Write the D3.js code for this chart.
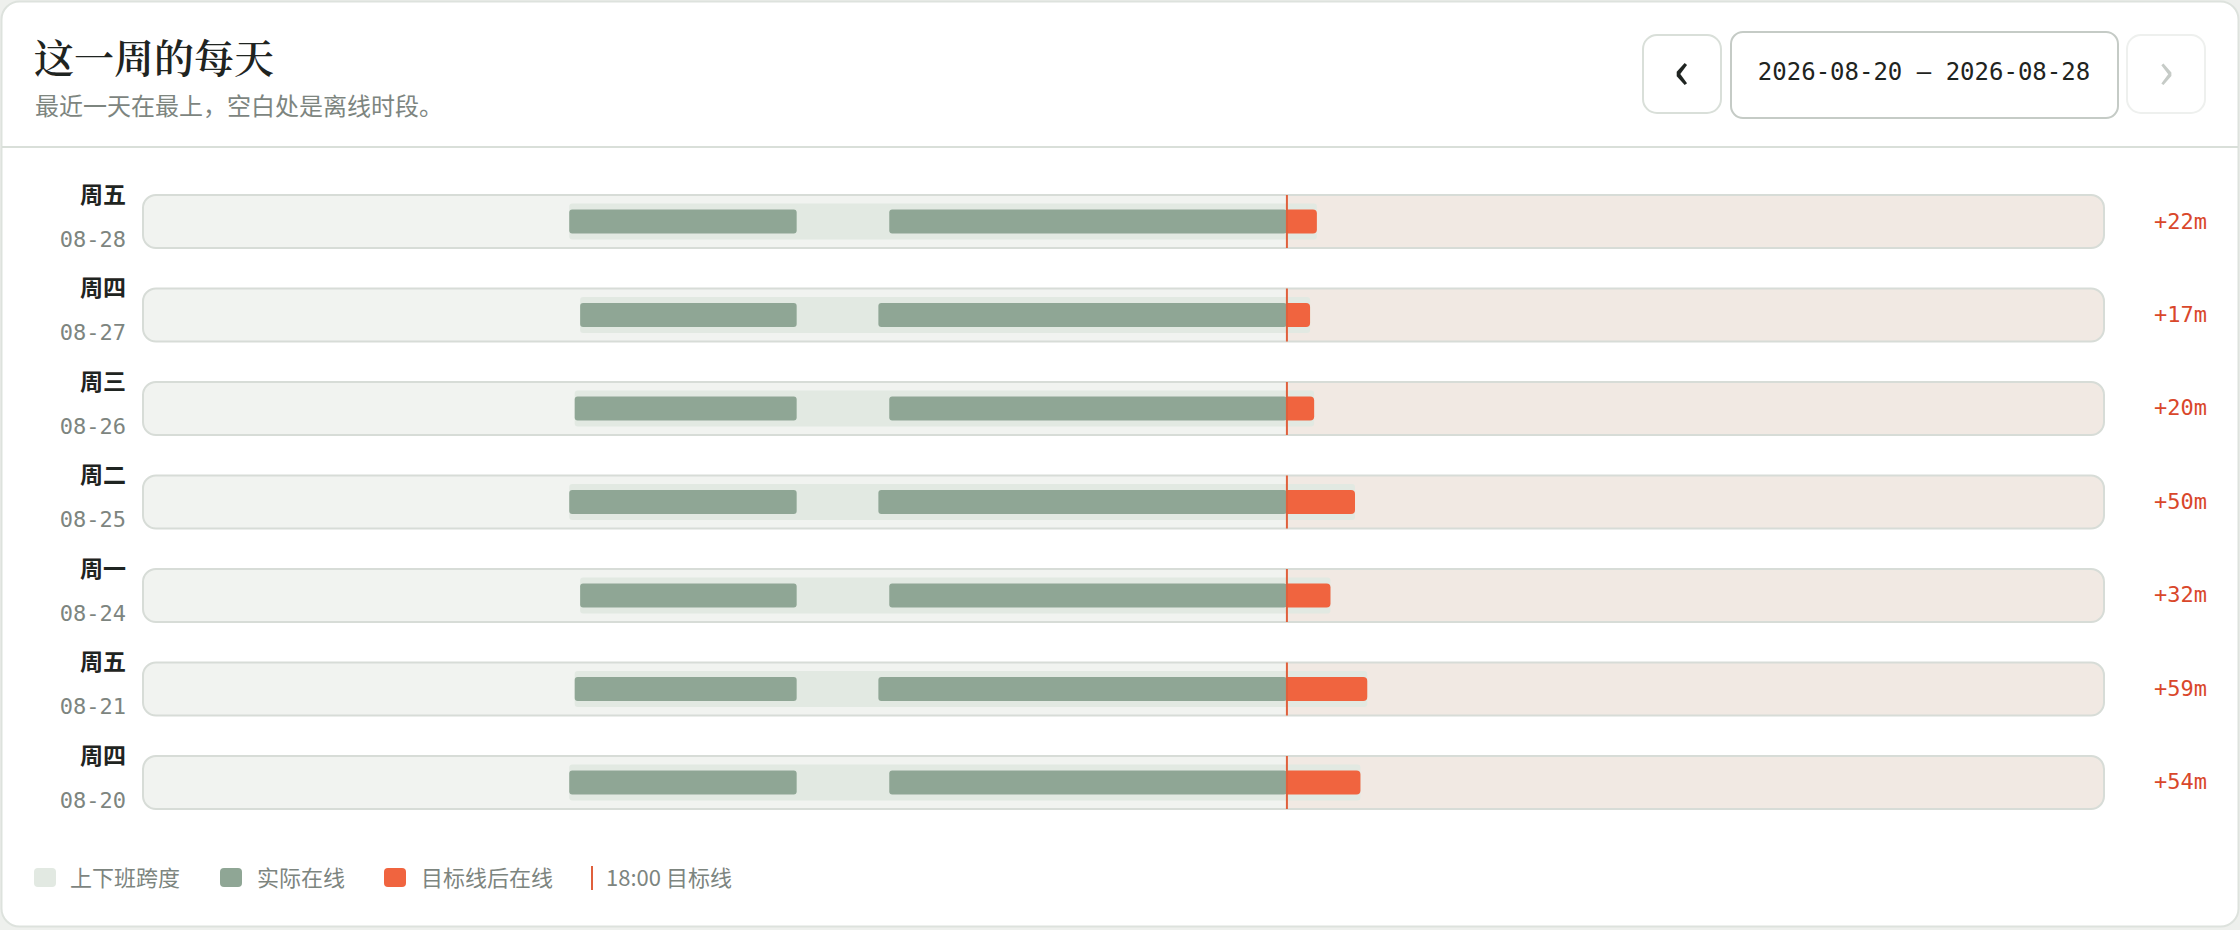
<!DOCTYPE html>
<html>
  <head>
    <meta charset="utf-8">
    <script src="https://cdn.jsdelivr.net/npm/d3@7"></script>
    <style type="text/css">
      body {
      margin: 0;
      background: #eef0ed;
      }
      .sans { font-family: "Noto Sans CJK SC", "Noto Sans", sans-serif; }
      .mono { font-family: "DejaVu Sans Mono", "Liberation Mono", monospace; }
      .serif { font-family: "Noto Serif CJK SC", "Source Han Serif SC", serif; }
    </style>
  </head>
  <body>
    <div class="plot_canvas"></div>
    <script>

    // one row per day, most recent on top
    var weekdays = ["周五", "周四", "周三", "周二", "周一", "周五", "周四"];
    var dates = ["08-28", "08-27", "08-26", "08-25", "08-24", "08-21", "08-20"];
    var morningStart = ["09:13", "09:21", "09:17", "09:13", "09:21", "09:17", "09:13"];
    var morningEnd = ["12:00", "12:00", "12:00", "12:00", "12:00", "12:00", "12:00"];
    var afternoonStart = ["13:08", "13:00", "13:08", "13:00", "13:08", "13:00", "13:08"];
    var afternoonEnd = ["18:22", "18:17", "18:20", "18:50", "18:32", "18:59", "18:54"];
    var overtimeLabels = ["+22m", "+17m", "+20m", "+50m", "+32m", "+59m", "+54m"];
    var targetTime = "18:00";
    var dayStart = "04:00", dayEnd = "28:00";
    var rangeLabel = "2026-08-20 – 2026-08-28";
    var legendLabels = ["上下班跨度", "实际在线", "目标线后在线", "18:00 目标线"];

    var W = 2240, H = 930;
    var C = {track: "#f1f3f0", late: "#f1e9e3", border: "#d7dcd7", span: "#e2e9e2",
             online: "#8fa695", over: "#f0643f", target: "#e0603c", red: "#d9472b",
             ink: "#1f2421", muted: "#7d857f"};

    function mins(s) { var p = s.split(":"); return +p[0] * 60 + +p[1]; }

    var days = dates.map(function(d, i) {
      return {date: d, weekday: weekdays[i], label: overtimeLabels[i],
              segs: [[mins(morningStart[i]), mins(morningEnd[i])],
                     [mins(afternoonStart[i]), mins(afternoonEnd[i])]]};
    });
    var target = mins(targetTime);

    var x = d3.scaleLinear().domain([mins(dayStart), mins(dayEnd)]).range([143, 2104]);
    var y = d3.scaleBand().domain(dates).range([195, 809]).paddingInner(0.433).paddingOuter(0);
    var th = y.bandwidth();

    var svg = d3.select(".plot_canvas").append("svg")
      .attr("width", W).attr("height", H)
      .style("display", "block");

    // card
    svg.append("rect").attr("x", 1.5).attr("y", 1.5).attr("width", W - 3).attr("height", H - 5)
      .attr("rx", 18).attr("fill", "#fff").attr("stroke", "#dde2dd").attr("stroke-width", 2);
    svg.append("line").attr("x1", 2).attr("x2", W - 2).attr("y1", 147).attr("y2", 147)
      .attr("stroke", "#d9dfd9").attr("stroke-width", 2);

    svg.append("text").attr("class", "serif").attr("x", 34).attr("y", 73)
      .attr("font-size", 40).attr("font-weight", 600).attr("fill", C.ink).text("这一周的每天");
    svg.append("text").attr("class", "sans").attr("x", 35).attr("y", 115)
      .attr("font-size", 24).attr("fill", C.muted).text("最近一天在最上，空白处是离线时段。");

    // week navigation
    var nav = svg.append("g");
    nav.append("rect").attr("x", 1643).attr("y", 35).attr("width", 78).attr("height", 78)
      .attr("rx", 14).attr("fill", "#fff").attr("stroke", "#d9dfd9").attr("stroke-width", 2);
    nav.append("text").attr("class", "sans").attr("x", 1682).attr("y", 89)
      .attr("text-anchor", "middle").attr("font-size", 52).attr("font-weight", 500)
      .attr("fill", C.ink).text("‹");
    nav.append("rect").attr("x", 1731).attr("y", 32).attr("width", 387).attr("height", 86)
      .attr("rx", 12).attr("fill", "#fff").attr("stroke", "#c5cbc6").attr("stroke-width", 2);
    nav.append("text").attr("class", "mono").attr("x", 1924).attr("y", 80)
      .attr("text-anchor", "middle").attr("font-size", 24).attr("fill", C.ink).text(rangeLabel);
    nav.append("rect").attr("x", 2127).attr("y", 35).attr("width", 78).attr("height", 78)
      .attr("rx", 14).attr("fill", "#fff").attr("stroke", "#eef0ee").attr("stroke-width", 2);
    nav.append("text").attr("class", "sans").attr("x", 2166).attr("y", 89)
      .attr("text-anchor", "middle").attr("font-size", 52)
      .attr("fill", "#c6cbc7").text("›");

    // rows
    svg.append("defs").append("clipPath").attr("id", "trackclip")
      .append("rect").attr("x", x.range()[0]).attr("y", 0)
      .attr("width", x.range()[1] - x.range()[0]).attr("height", th).attr("rx", 13);

    var rows = svg.selectAll("g.row").data(days).enter().append("g")
      .attr("class", "row")
      .attr("transform", function(d) { return "translate(0," + y(d.date) + ")"; });

    rows.append("rect").attr("x", x.range()[0]).attr("width", x.range()[1] - x.range()[0])
      .attr("height", th).attr("fill", C.track).attr("clip-path", "url(#trackclip)");
    rows.append("rect").attr("x", x(target)).attr("width", x.range()[1] - x(target))
      .attr("height", th).attr("fill", C.late).attr("clip-path", "url(#trackclip)");
    rows.append("rect").attr("x", x.range()[0]).attr("width", x.range()[1] - x.range()[0])
      .attr("height", th).attr("rx", 13).attr("fill", "none")
      .attr("stroke", C.border).attr("stroke-width", 2);

    var spanH = 36, barH = 24;
    rows.append("rect")
      .attr("x", function(d) { return x(d.segs[0][0]); })
      .attr("width", function(d) { return x(d.segs[d.segs.length - 1][1]) - x(d.segs[0][0]); })
      .attr("y", (th - spanH) / 2).attr("height", spanH).attr("rx", 3).attr("fill", C.span);

    rows.selectAll("rect.on").data(function(d) { return d.segs; }).enter().append("rect")
      .attr("class", "on")
      .attr("x", function(s) { return x(s[0]); })
      .attr("width", function(s) { return x(Math.min(s[1], target)) - x(s[0]); })
      .attr("y", (th - barH) / 2).attr("height", barH).attr("rx", 3).attr("fill", C.online);

    // after the target line: square left, rounded right
    rows.selectAll("path.over").data(function(d) {
      return d.segs.filter(function(s) { return s[1] > target; });
    }).enter().append("path")
      .attr("class", "over")
      .attr("fill", C.over)
      .attr("d", function(s) {
        var x0 = x(Math.max(s[0], target)), x1 = x(s[1]), r = 4;
        var y0 = (th - barH) / 2, y1 = y0 + barH;
        return "M" + x0 + "," + y0 + "H" + (x1 - r) + "Q" + x1 + "," + y0 + " " + x1 + "," + (y0 + r)
          + "V" + (y1 - r) + "Q" + x1 + "," + y1 + " " + (x1 - r) + "," + y1 + "H" + x0 + "Z";
      });

    rows.append("line").attr("x1", x(target)).attr("x2", x(target))
      .attr("y1", 0).attr("y2", th).attr("stroke", C.target).attr("stroke-width", 2);

    rows.append("text").attr("class", "sans").attr("x", 126).attr("y", 8)
      .attr("text-anchor", "end").attr("font-size", 23).attr("font-weight", 700)
      .attr("fill", C.ink).text(function(d) { return d.weekday; });
    rows.append("text").attr("class", "mono").attr("x", 126).attr("y", 52)
      .attr("text-anchor", "end").attr("font-size", 22)
      .attr("fill", C.muted).text(function(d) { return d.date; });
    rows.append("text").attr("class", "mono").attr("x", 2207).attr("y", th / 2 + 7)
      .attr("text-anchor", "end").attr("font-size", 22)
      .attr("fill", C.red).text(function(d) { return d.label; });

    // legend
    var lg = svg.append("g").attr("transform", "translate(0,878)");
    var swatches = [{x: 34, c: C.span}, {x: 220, c: C.online}, {x: 384, c: C.over}];
    lg.selectAll("rect").data(swatches).enter().append("rect")
      .attr("x", function(d) { return d.x; }).attr("y", -10)
      .attr("width", 22).attr("height", 19).attr("rx", 4)
      .attr("fill", function(d) { return d.c; });
    lg.append("line").attr("x1", 592).attr("x2", 592).attr("y1", -12).attr("y2", 12)
      .attr("stroke", C.target).attr("stroke-width", 2);
    var lx = [70, 257, 421, 606];
    lg.selectAll("text").data(legendLabels).enter().append("text")
      .attr("class", "sans")
      .attr("x", function(d, i) { return lx[i]; }).attr("y", 8)
      .attr("font-size", 22).attr("fill", C.muted)
      .text(function(d) { return d; });

  </script>
</body>
</html>
